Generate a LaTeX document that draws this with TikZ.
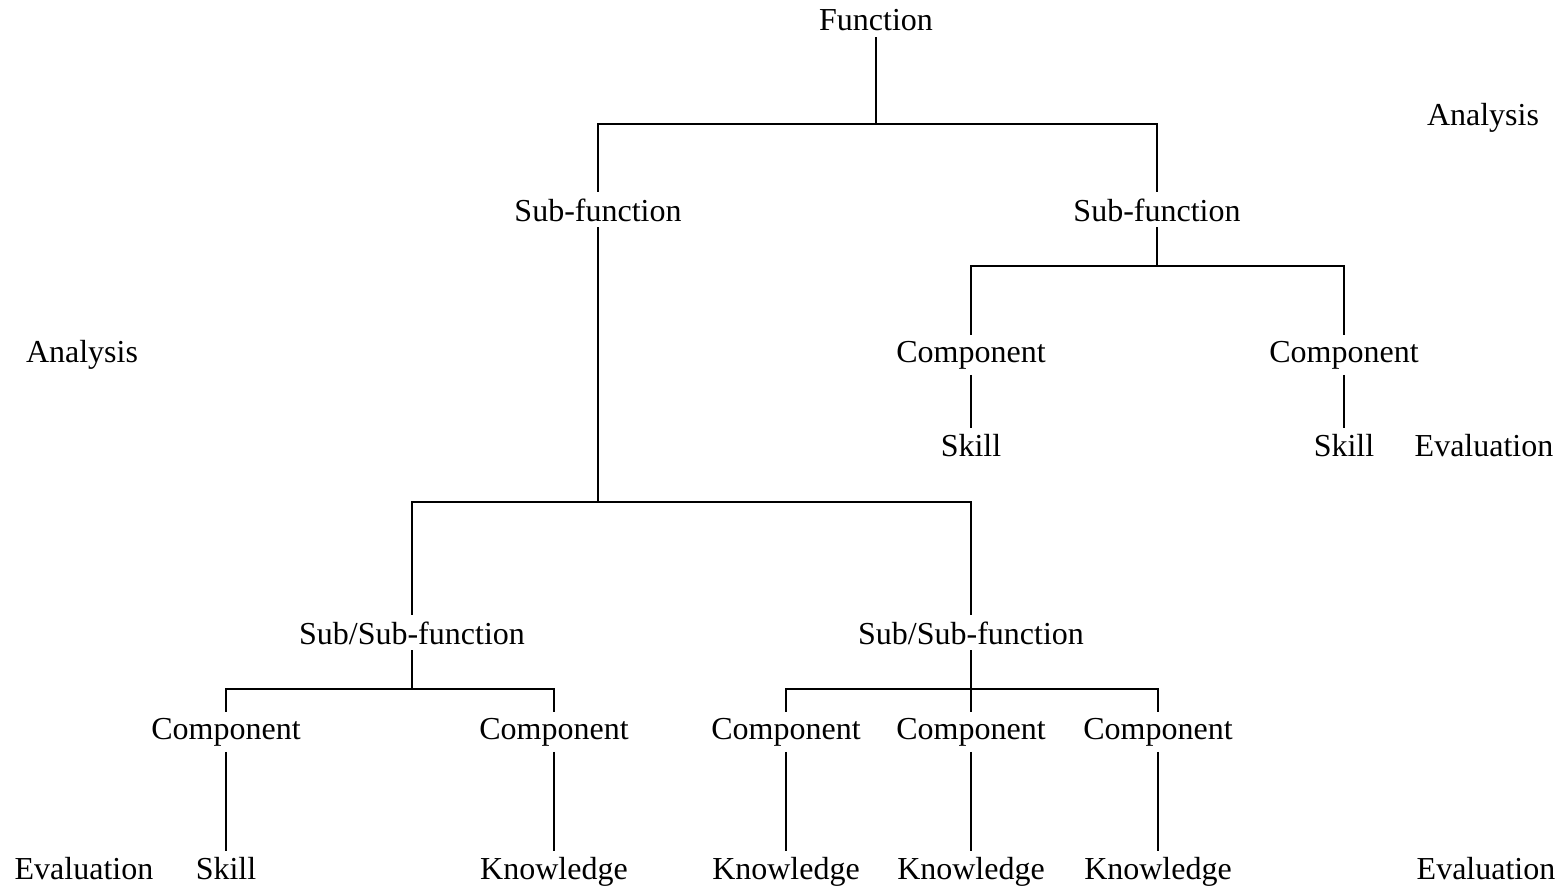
\documentclass[tikz,border=0pt]{standalone}
\usepackage{fontspec}
\setmainfont{Liberation Serif}
\begin{document}
\begin{tikzpicture}[x=1pt,y=-1pt,line width=2.2pt]
\tikzset{every node/.style={anchor=base, inner sep=5pt, font=\fontsize{32}{36}\selectfont}}
\useasboundingbox (0,0) rectangle (1563,888);
\node (fn) at (876,31) {Function};
\node (sf1) at (598,221) {Sub-function};
\node (sf2) at (1157,221) {Sub-function};
\node (cp1) at (971,362) {Component};
\node (cp2) at (1344,362) {Component};
\node (lf1) at (971,456) {Skill};
\node (lf2) at (1344,456) {Skill};
\node (ss1) at (412,644) {Sub/Sub-function};
\node (ss2) at (971,644) {Sub/Sub-function};
\node (cp3) at (226,739) {Component};
\node (cp4) at (554,739) {Component};
\node (cp5) at (786,739) {Component};
\node (cp6) at (971,739) {Component};
\node (cp7) at (1158,739) {Component};
\node (lf3) at (226,879) {Skill};
\node (lf4) at (554,879) {Knowledge};
\node (lf5) at (786,879) {Knowledge};
\node (lf6) at (971,879) {Knowledge};
\node (lf7) at (1158,879) {Knowledge};

\node (an1) at (1483,126) {Analysis};
\node (an2) at (82,362) {Analysis};
\node (ev1) at (1484,456) {Evaluation};
\node (ev2) at (84,879) {Evaluation};
\node (ev3) at (1486,879) {Evaluation};

\coordinate (br1) at (876,124);
\coordinate (br2) at (1157,266);
\coordinate (br3) at (598,502);
\coordinate (br4) at (412,689);
\coordinate (br5) at (971,689);

\foreach \from/\to in {fn/br1,sf2/br2,sf1/br3,ss1/br4,ss2/br5}
{
	\draw (\from) -- (\to);
}
\foreach \from/\to in {br1/sf1,br1/sf2,br2/cp1,br2/cp2,br3/ss1,br3/ss2,br4/cp3,br4/cp4,br5/cp5,br5/cp6,br5/cp7}
{
	\draw (\from) -| (\to);
}
\foreach \from/\to in {cp1/lf1,cp2/lf2,cp3/lf3,cp4/lf4,cp5/lf5,cp6/lf6,cp7/lf7}
{
	\draw (\from) -- (\to);
}
\end{tikzpicture}
\end{document}
